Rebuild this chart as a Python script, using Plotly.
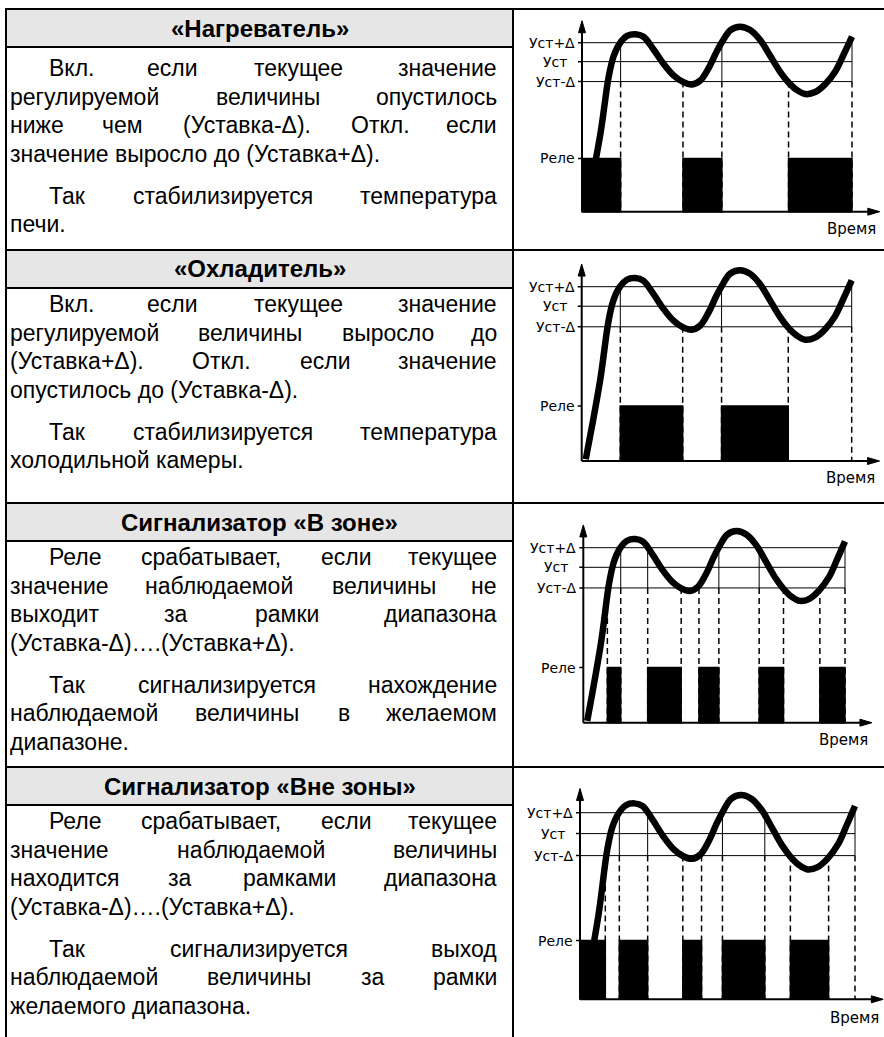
import plotly.graph_objects as go

# ---------------- data ----------------
level_labels = ["Уст+Δ", "Уст", "Уст-Δ", "Реле"]
level_values = [100, 88.8, 77, 31.5]

curve_x = [1.5, 6.8, 9.9, 11.7, 14.0, 16.7, 19.8, 22.8, 26.5, 30.2, 34.0, 37.4, 40.7,
           43.8, 46.9, 49.8, 51.9, 55.0, 58.6, 62.3, 66.0, 69.8, 73.5, 76.5, 79.6,
           82.7, 86.4, 90.1, 93.8, 96.9, 100]
curve_y = [1, 46, 80, 92, 99.6, 104, 105, 103.5, 96, 87.5, 80.5, 76.8, 75.3,
           77.6, 85, 94.5, 100.5, 107.5, 109.5, 107.5, 101.6, 92, 82.5, 76.5, 72,
           69.6, 70.8, 75.5, 83, 93, 103.6]

cross_hi = [14.3, 24.6, 51.8, 67.2]          # value crosses Уст+Δ
cross_lo = [9.2, 37.4, 44.2, 76.5, 90.4]     # value crosses Уст-Δ
t_end = 100

heater_on = [[0, 14.3], [37.4, 51.8], [76.5, 100]]
heater_switch = [14.3, 37.4, 51.8, 76.5, 100]
cooler_on = [[14.3, 37.4], [51.8, 76.5]]
cooler_switch = [14.3, 37.4, 51.8, 76.5, 100]
inzone_on = [[9.2, 14.3], [24.6, 37.4], [44.2, 51.8], [67.2, 76.5], [90.4, 100]]
inzone_switch = [9.2, 14.3, 24.6, 37.4, 44.2, 51.8, 67.2, 76.5, 90.4, 100]
outzone_on = [[0, 9.2], [14.3, 24.6], [37.4, 44.2], [51.8, 67.2], [76.5, 90.4]]
outzone_switch = [9.2, 14.3, 24.6, 37.4, 44.2, 51.8, 67.2, 76.5, 90.4, 100]

time_label = "Время"

headers = ["«Нагреватель»", "«Охладитель»", "Сигнализатор «В зоне»", "Сигнализатор «Вне зоны»"]

row_paragraphs = [
    [["Вкл. если текущее значение", "регулируемой величины опустилось",
      "ниже чем (Уставка-Δ). Откл. если", "значение выросло до (Уставка+Δ)."],
     ["Так стабилизируется температура", "печи."]],
    [["Вкл. если текущее значение", "регулируемой величины выросло до",
      "(Уставка+Δ). Откл. если значение", "опустилось до (Уставка-Δ)."],
     ["Так стабилизируется температура", "холодильной камеры."]],
    [["Реле срабатывает, если текущее", "значение наблюдаемой величины не",
      "выходит за рамки диапазона", "(Уставка-Δ)….(Уставка+Δ)."],
     ["Так сигнализируется нахождение", "наблюдаемой величины в желаемом", "диапазоне."]],
    [["Реле срабатывает, если текущее", "значение наблюдаемой величины",
      "находится за рамками диапазона", "(Уставка-Δ)….(Уставка+Δ)."],
     ["Так сигнализируется выход", "наблюдаемой величины за рамки", "желаемого диапазона."]],
]

# ---------------- layout constants ----------------
W, H = 884, 1037
FONT = "Liberation Sans, Arial, sans-serif"
LABEL_FONT = "DejaVu Sans, Liberation Sans, sans-serif"
BODY_SIZE = 23
HEAD_SIZE = 24
row_tops = [9, 250, 503, 767]
first_line = [59.5, 54, 54, 54]
HEADER_H = 38
LEFT_X, IND_X, RIGHT_X, DIV_X, BORDER_X = 8, 47, 499, 513, 6
LINE_STEP, PARA_GAP = 28.5, 13.5

# approximate Arial advance widths (em) used for justification
AW = {" ": .278, ".": .278, ",": .278, "(": .333, ")": .333, "-": .333, "+": .584,
      "Δ": .668, "…": 1.0, "«": .556, "»": .556,
      "а": .556, "б": .564, "в": .531, "г": .365, "д": .570, "е": .556, "ж": .693,
      "з": .455, "и": .560, "й": .560, "к": .448, "л": .560, "м": .688, "н": .551,
      "о": .556, "п": .551, "р": .556, "с": .5, "т": .46, "у": .5, "ф": .822,
      "х": .5, "ц": .564, "ч": .524, "ш": .813, "щ": .829, "ъ": .638, "ы": .715,
      "ь": .521, "э": .511, "ю": .763, "я": .542,
      "В": .667, "Т": .611, "Р": .667, "С": .722, "У": .614, "Н": .722, "О": .778, "К": .583}


def tw(s, size):
    return sum(AW.get(c, .556) for c in s) * size


def px_x(px):
    return px / W


def px_y(py):
    return 1 - py / H


fig = go.Figure()
shapes = []
annotations = []

# ---------------- table ----------------
for rt, head in zip(row_tops, headers):
    shapes.append(dict(type="rect", xref="paper", yref="paper", layer="below",
                       x0=px_x(BORDER_X), x1=px_x(DIV_X), y0=px_y(rt), y1=px_y(rt + HEADER_H),
                       fillcolor="#e6e6e6", line=dict(width=0)))
    shapes.append(dict(type="line", xref="paper", yref="paper", layer="below",
                       x0=px_x(BORDER_X), x1=px_x(DIV_X), y0=px_y(rt + HEADER_H), y1=px_y(rt + HEADER_H),
                       line=dict(color="black", width=2)))
    shapes.append(dict(type="line", xref="paper", yref="paper", layer="below",
                       x0=px_x(BORDER_X - 1), x1=1, y0=px_y(rt), y1=px_y(rt),
                       line=dict(color="black", width=2)))
    annotations.append(dict(xref="paper", yref="paper", x=px_x((BORDER_X + DIV_X) / 2),
                            y=px_y(rt + HEADER_H / 2), text="<b>" + head + "</b>", showarrow=False,
                            xanchor="center", yanchor="middle",
                            font=dict(family=FONT, size=HEAD_SIZE, color="black")))

for xv in (BORDER_X, DIV_X):
    shapes.append(dict(type="line", xref="paper", yref="paper", layer="below",
                       x0=px_x(xv), x1=px_x(xv), y0=px_y(row_tops[0] - 1), y1=0,
                       line=dict(color="black", width=2)))

# body text (justified word by word)
for rt, fl, paras in zip(row_tops, first_line, row_paragraphs):
    y = rt + fl
    for pi, para in enumerate(paras):
        if pi > 0:
            y += PARA_GAP
        for li, line in enumerate(para):
            start = IND_X if li == 0 else LEFT_X
            last = li == len(para) - 1
            words = line.split(" ")
            if last or len(words) == 1:
                annotations.append(dict(xref="paper", yref="paper", x=px_x(start), y=px_y(y),
                                        text=line, showarrow=False, xanchor="left", yanchor="middle",
                                        font=dict(family=FONT, size=BODY_SIZE, color="black")))
            else:
                widths = [tw(w_, BODY_SIZE) for w_ in words]
                gap = (RIGHT_X - start - sum(widths)) / (len(words) - 1)
                xcur = start
                for wi, (wd, ww) in enumerate(zip(words, widths)):
                    if wi == 0:
                        xa, anc = xcur, "left"
                    elif wi == len(words) - 1:
                        xa, anc = RIGHT_X, "right"
                    else:
                        xa, anc = xcur + ww / 2, "center"
                    annotations.append(dict(xref="paper", yref="paper", x=px_x(xa), y=px_y(y),
                                            text=wd, showarrow=False, xanchor=anc, yanchor="middle",
                                            font=dict(family=FONT, size=BODY_SIZE, color="black")))
                    xcur += ww + gap
            y += LINE_STEP

# ---------------- charts ----------------
# pixel calibration of each small chart: (x0 px, px per x unit, y0 px, px per y unit)
calib = [(582, 2.70, 211.7, 1.69), (581.7, 2.70, 461, 1.743),
         (583.3, 2.617, 722.7, 1.75), (580, 2.75, 999.3, 1.866)]
relay_sets = [heater_on, cooler_on, inzone_on, outzone_on]
switch_sets = [heater_switch, cooler_switch, inzone_switch, outzone_switch]

hi, sp, lo, relay = level_values
Y_TOP, X_TIP = 113, 110.3
layout_axes = {}

for k, (cal, on_set, sw_set) in enumerate(zip(calib, relay_sets, switch_sets), start=1):
    px0, pxs, py0, pys = cal
    xa = "x" if k == 1 else f"x{k}"
    ya = "y" if k == 1 else f"y{k}"
    xr = [-4, min(111.0, (883.5 - px0) / pxs)]
    yr = [-14, 116]
    layout_axes["xaxis" if k == 1 else f"xaxis{k}"] = dict(
        domain=[(px0 + xr[0] * pxs) / W, (px0 + xr[1] * pxs) / W], range=xr,
        visible=False, anchor=ya, fixedrange=True)
    layout_axes["yaxis" if k == 1 else f"yaxis{k}"] = dict(
        domain=[1 - (py0 - yr[0] * pys) / H, 1 - (py0 - yr[1] * pys) / H], range=yr,
        visible=False, anchor=xa, fixedrange=True)

    def L(x0, y0, x1, y1, width=1, dash="solid"):
        shapes.append(dict(type="line", xref=xa, yref=ya, layer="below", x0=x0, y0=y0, x1=x1, y1=y1,
                           line=dict(color="black", width=width, dash=dash)))

    # dashed switching lines
    for t in sw_set:
        L(t, lo, t, 0, 1.5, "6px,4px")
    # thin guide lines inside the band
    for t in sw_set:
        if t in cross_hi:
            L(t, hi, t, lo, 1)
        elif t == t_end:
            L(t, curve_y[-1], t, lo, 1)
    # set-point levels
    for lv in (hi, sp, lo):
        L(0, lv, 100, lv, 1)
    # ticks
    for lv in level_values:
        L(-4 / pxs, lv, 0, lv, 1.5)
    # relay bars
    for a, b in on_set:
        shapes.append(dict(type="rect", xref=xa, yref=ya, layer="below", x0=a, x1=b, y0=0, y1=relay,
                           fillcolor="black", line=dict(color="black", width=1.5)))
    # axes
    L(0, 0, 0, Y_TOP - 10 / pys, 2)
    L(0, 0, X_TIP - 10 / pxs, 0, 2)
    ah, aw = 12 / pys, 3.5 / pxs
    shapes.append(dict(type="path", xref=xa, yref=ya, layer="below",
                       path=f"M {-aw},{Y_TOP - ah} L 0,{Y_TOP} L {aw},{Y_TOP - ah} Z",
                       fillcolor="black", line=dict(color="black", width=1)))
    bh, bw = 3.5 / pys, 12 / pxs
    shapes.append(dict(type="path", xref=xa, yref=ya, layer="below",
                       path=f"M {X_TIP - bw},{-bh} L {X_TIP},0 L {X_TIP - bw},{bh} Z",
                       fillcolor="black", line=dict(color="black", width=1)))

    # curve
    fig.add_trace(go.Scatter(x=curve_x, y=curve_y, xaxis=xa, yaxis=ya, mode="lines",
                             line=dict(color="black", width=6.5, shape="spline", smoothing=1.0),
                             hoverinfo="skip", showlegend=False, cliponaxis=False))

    # labels
    for lab, lv in zip(level_labels, level_values):
        annotations.append(dict(xref=xa, yref=ya, x=0, y=lv, text=lab, showarrow=False,
                                xanchor="right", yanchor="middle", xshift=-13 if lab == "Уст" else -5,
                                font=dict(family=LABEL_FONT, size=14, color="black")))
    annotations.append(dict(xref=xa, yref=ya, x=109.5, y=-10, text=time_label, showarrow=False,
                            xanchor="right", yanchor="middle",
                            font=dict(family=LABEL_FONT, size=15, color="black")))

fig.update_layout(width=W, height=H, margin=dict(l=0, r=0, t=0, b=0),
                  paper_bgcolor="white", plot_bgcolor="rgba(0,0,0,0)",
                  showlegend=False, shapes=shapes, annotations=annotations, **layout_axes)

fig.write_html("out.html", config={"displayModeBar": False, "staticPlot": True},
               post_script="document.body.style.margin='0';document.body.style.overflow='hidden';")
